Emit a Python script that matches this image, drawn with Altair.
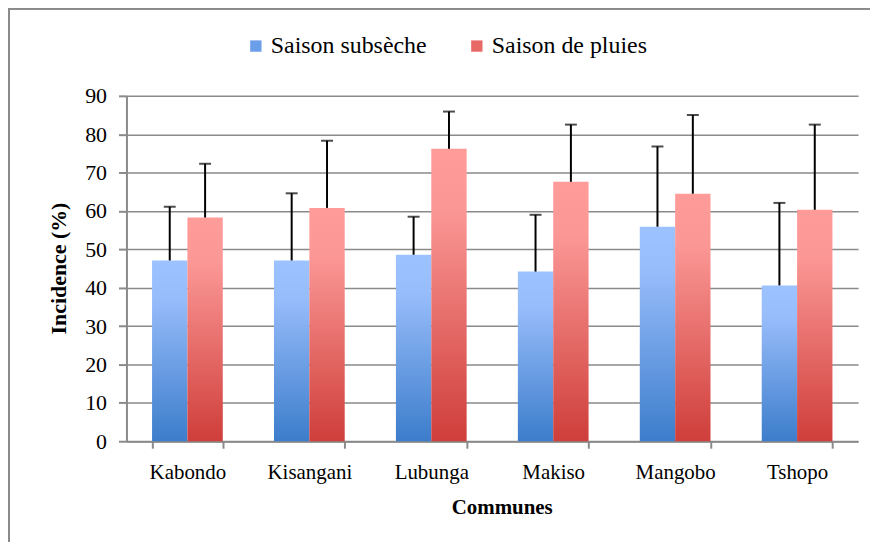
import altair as alt
import pandas as pd

communes = ["Kabondo", "Kisangani", "Lubunga", "Makiso", "Mangobo", "Tshopo"]
series = ["Saison subsèche", "Saison de pluies"]
seche = [47.1, 47.1, 48.6, 44.2, 55.9, 40.6]
seche_err = [14.0, 17.5, 9.9, 14.8, 20.9, 21.5]
pluies = [58.3, 60.8, 76.2, 67.6, 64.5, 60.3]
pluies_err = [14.0, 17.5, 9.7, 14.9, 20.5, 22.2]
y_ticks = [0, 10, 20, 30, 40, 50, 60, 70, 80, 90]

rows = []
for i, c in enumerate(communes):
    rows.append({"commune": c, "series": series[0], "value": seche[i], "upper": seche[i] + seche_err[i]})
    rows.append({"commune": c, "series": series[1], "value": pluies[i], "upper": pluies[i] + pluies_err[i]})
df = pd.DataFrame(rows)

FONT = "Liberation Serif"
GRAY = "#8a8a8a"

blue_grad = alt.Gradient(
    gradient="linear", x1=0, x2=0, y1=0, y2=1,
    stops=[alt.GradientStop(color="#9cc2ff", offset=0),
           alt.GradientStop(color="#98bdfb", offset=0.2),
           alt.GradientStop(color="#3c7dcb", offset=1)])
red_grad = alt.Gradient(
    gradient="linear", x1=0, x2=0, y1=0, y2=1,
    stops=[alt.GradientStop(color="#ff9c9a", offset=0),
           alt.GradientStop(color="#fb9896", offset=0.2),
           alt.GradientStop(color="#cf3e3a", offset=1)])

x_axis = alt.Axis(title="Communes", labelAngle=0, tickBand="extent",
                  tickSize=7, tickColor=GRAY, tickWidth=2,
                  domainColor=GRAY, domainWidth=2,
                  labelFont=FONT, labelFontSize=21, labelColor="black",
                  labelPadding=13,
                  titleFont=FONT, titleFontSize=21, titleFontWeight="bold",
                  titleColor="black", titleX=377, titleY=67,
                  titleBaseline="middle", titleAlign="center")
y_axis = alt.Axis(title="Incidence (%)", values=y_ticks, labelOverlap=False,
                  grid=True, gridColor=GRAY, gridWidth=1.5,
                  tickSize=8, tickColor=GRAY, tickWidth=2,
                  domainColor=GRAY, domainWidth=2,
                  labelFont=FONT, labelFontSize=22, labelColor="black",
                  labelPadding=12,
                  titleFont=FONT, titleFontSize=22, titleFontWeight="bold",
                  titleColor="black", titleX=-68, titleY=173,
                  titleAngle=-90, titleBaseline="middle", titleAlign="center")
y_scale = alt.Scale(domain=[0, 90], nice=False)

x_enc = alt.X("commune:N", sort=communes,
              scale=alt.Scale(paddingInner=0.42, paddingOuter=0.21), axis=x_axis)
xoff = alt.XOffset("series:N", sort=series,
                   scale=alt.Scale(domain=series, paddingInner=0, paddingOuter=0))
y_enc = alt.Y("value:Q", scale=y_scale, axis=y_axis)
y_up = alt.Y("upper:Q", scale=y_scale, axis=y_axis)

base = alt.Chart(df)

bars_s = base.transform_filter(alt.datum.series == series[0]).mark_bar(
    color=blue_grad).encode(x=x_enc, xOffset=xoff, y=y_enc)
bars_p = base.transform_filter(alt.datum.series == series[1]).mark_bar(
    color=red_grad).encode(x=x_enc, xOffset=xoff, y=y_enc)

legend_layer = base.mark_square(opacity=0).encode(
    x=x_enc, xOffset=xoff, y=y_enc,
    color=alt.Color("series:N", sort=series,
                    scale=alt.Scale(domain=series, range=["#6a9ee8", "#e86a67"]),
                    legend=alt.Legend(title=None, orient="none", direction="horizontal",
                                      legendX=118, legendY=-62,
                                      symbolType="square", symbolSize=130,
                                      symbolOpacity=1, symbolStrokeWidth=0,
                                      labelFont=FONT, labelFontSize=24,
                                      labelColor="black", labelOffset=3,
                                      columnPadding=38)))

err_rule = base.mark_rule(color="black", strokeWidth=2).encode(
    x=x_enc, xOffset=xoff, y=y_enc, y2="upper:Q")
err_cap = base.mark_tick(color="black", thickness=2, size=12, orient="horizontal").encode(
    x=x_enc, xOffset=xoff, y=y_up)

border_left = base.mark_rule(color=GRAY, strokeWidth=2).encode(
    x=alt.value(-118), y=alt.value(-88), y2=alt.value(480))
border_top = base.mark_rule(color=GRAY, strokeWidth=2).encode(
    x=alt.value(-119), x2=alt.value(760), y=alt.value(-88))

chart = alt.layer(bars_s, bars_p, legend_layer, err_rule, err_cap,
                  border_left, border_top).properties(
    width=735, height=347,
    autosize=alt.AutoSizeParams(type="none"),
    padding={"left": 119, "top": 87, "right": 12, "bottom": 100},
    background="white",
).configure(font=FONT).configure_view(strokeWidth=0).configure_axis(
    labelFont=FONT, titleFont=FONT
).configure_legend(labelFont=FONT, titleFont=FONT)

chart.save("out.html", embed_options={"renderer": "svg", "actions": False})
